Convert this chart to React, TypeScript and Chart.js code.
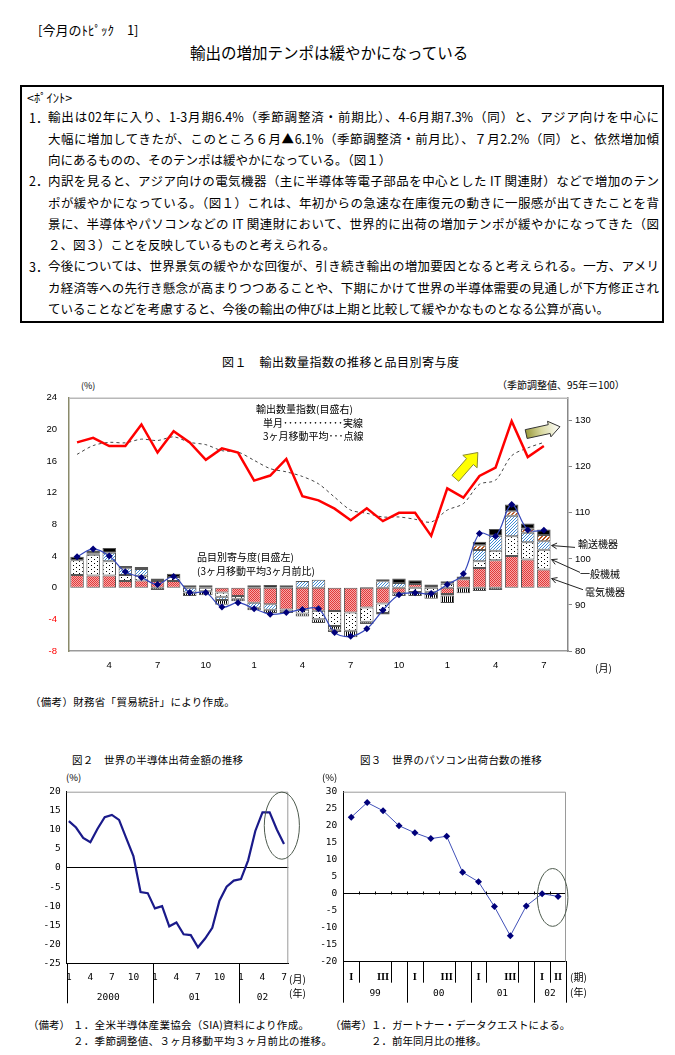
import React, { useEffect, useRef } from 'react';
import { Chart, registerables } from 'chart.js';

Chart.register(...registerables);

const JP = "'Noto Sans CJK JP', sans-serif";
const SANS = "'Liberation Sans', Arial, sans-serif";
const MONO = "'DejaVu Sans Mono', monospace";
const SERIF = "'Liberation Serif', serif";

// ---------- Figure 1 data (Feb 2000 .. Jul 2002, last slot Aug 2002 empty) ----------
const fig1Months = ['2', '3', '4', '5', '6', '7', '8', '9', '10', '11', '12', '1', '2', '3', '4', '5', '6', '7', '8', '9', '10', '11', '12', '1', '2', '3', '4', '5', '6', '7', '8'];
const fig1ShownMonths = ['1', '4', '7', '10'];
const electric = [1.6, 1.55, 1.55, 0.85, 0.9, 0.85, 0.85, 0, 0.2, -0.6, -1.05, -1.9, -2.1, -2.75, -2.8, -2.9, -2.95, -3.15, -2.5, -2.0, -0.7, 0.45, 0.2, -0.8, 1.05, 2.5, 3.45, 4.0, 3.55, 2.3];
const generalMachinery = [1.85, 2.6, 1.8, 0.75, 0.6, 0, 0.5, 0, -0.45, -0.55, -0.35, 0, 0, -0.3, -0.45, -1.1, -1.9, -2.3, -1.8, -1.2, 0, -0.55, -0.5, 0.5, 0, 0.85, 1.2, 2.5, 2.2, 2.5];
const transport = [0, 0.2, 1.05, 0.85, 0.85, 0, 0, -0.6, 0, -0.4, 0, -0.65, -0.7, 0, 0.85, 1.0, 0, 0, 0, 0.8, 0.6, 0, -0.3, -0.2, 0, 1.4, 1.9, 2.6, 1.2, 1.05];
const chemicals = [0, 0, 0, 0, 0, -0.3, 0, -0.45, -0.5, -0.6, -0.3, -0.3, -0.4, -0.15, -0.4, -0.45, -0.45, -0.8, -0.3, -0.2, -0.35, -0.5, -0.6, -0.95, -0.7, -0.42, -0.3, 0, 0, 0];
const metals = [0, 0, 0, 0, 0, 0, 0, 0, 0, 0, 0, 0, 0, 0, 0, 0, -0.3, 0, 0, 0, 0, 0, 0, 0, 0, 0.6, 0, 0.55, 0.5, 0.8];
const others = [0.45, 0.35, 0.6, 0.3, 0.25, 0.3, 0.4, 0.3, 0.1, 0, 0, 0.3, 0.35, 0.3, 0, 0, 0, 0, 0.1, 0.25, 0.55, 0.5, 0.2, 0.3, 0.35, 0.45, 0.85, 0.85, 0.65, 0.7];
const contributionMA = [3.9, 4.9, 4.0, 2.0, 1.3, 0.4, 1.4, -0.6, -0.6, -2.45, -1.9, -2.65, -3.35, -3.15, -2.75, -2.65, -5.65, -6.15, -5.2, -2.85, -0.9, -0.65, -0.75, 0.4, 1.75, 6.85, 6.5, 10.5, 7.3, 7.25];
const exportIndex = [125.3, 126.3, 124.5, 124.5, 129.2, 123.1, 127.7, 125.3, 121.5, 124.0, 123.1, 117.0, 118.1, 121.7, 113.6, 112.7, 110.9, 108.4, 111.0, 108.2, 110.0, 110.0, 105.0, 115.3, 113.3, 118.0, 119.8, 129.9, 122.1, 124.5];
const exportIndexMA = [122.7, 124.6, 125.3, 125.2, 126.0, 125.7, 126.5, 125.3, 124.8, 123.5, 123.2, 121.4, 119.6, 118.9, 117.9, 116.3, 113.4, 110.6, 109.9, 109.1, 109.1, 108.6, 108.0, 110.6, 112.0, 116.2, 117.1, 122.4, 124.1, 125.3];
// arrows (category index, right-axis value)
const risingArrow = [23.5, 117.5, 24.9, 123.1];
const flatArrow = [27.9, 127.1, 30.0, 128.7];

// ---------- Figure 2 data (Jan 2000 .. Jul 2002) ----------
const fig2Months = [1, 2, 3, 4, 5, 6, 7, 8, 9, 10, 11, 12, 1, 2, 3, 4, 5, 6, 7, 8, 9, 10, 11, 12, 1, 2, 3, 4, 5, 6, 7];
const fig2TickIndex = [0, 3, 6, 9, 12, 15, 18, 21, 24, 27, 30];
const fig2Values = [12.3, 10.6, 7.9, 6.75, 10.3, 13.3, 13.9, 12.6, 7.8, 3.1, -6.3, -6.6, -10.6, -10.0, -15.3, -14.3, -17.4, -17.6, -20.8, -18.5, -15.7, -8.6, -4.9, -3.3, -2.9, 2.0, 9.7, 14.6, 14.6, 10.1, 6.3];
const fig2YearLabels = ['2000', '01', '02'];
const fig2YearStart = [0, 12, 24];
const fig2YearEnd = [11, 23, 30];
const fig2Circle = [29.7, 11.1, 2.45, 8.8];

// ---------- Figure 3 data (99 I .. 02 II) ----------
const fig3Quarters = ['I', 'II', 'III', 'IV', 'I', 'II', 'III', 'IV', 'I', 'II', 'III', 'IV', 'I', 'II'];
const fig3Values = [22.5, 26.8, 24.4, 20.0, 17.9, 16.2, 16.9, 6.3, 3.5, -3.8, -12.4, -3.6, 0.0, -0.8];
const fig3YearLabels = ['99', '00', '01', '02'];
const fig3YearStart = [0, 4, 8, 12];
const fig3YearEnd = [3, 7, 11, 13];
const fig3Circle = [12.66, -1.1, 0.96, 8.5];

function makePattern(w: number, h: number, draw: (g: CanvasRenderingContext2D) => void): CanvasPattern {
  const c = document.createElement('canvas');
  c.width = w;
  c.height = h;
  const g = c.getContext('2d')!;
  draw(g);
  return g.createPattern(c, 'repeat')!;
}

function blockArrow(ctx: CanvasRenderingContext2D, x1: number, y1: number, x2: number, y2: number, shaftW: number, headW: number, headL: number, fill: any, stroke: string) {
  const dx = x2 - x1, dy = y2 - y1;
  const len = Math.hypot(dx, dy);
  const ux = dx / len, uy = dy / len;
  const nx = -uy, ny = ux;
  const bx = x2 - ux * headL, by = y2 - uy * headL;
  const pts = [
    [x1 + nx * shaftW / 2, y1 + ny * shaftW / 2],
    [bx + nx * shaftW / 2, by + ny * shaftW / 2],
    [bx + nx * headW / 2, by + ny * headW / 2],
    [x2, y2],
    [bx - nx * headW / 2, by - ny * headW / 2],
    [bx - nx * shaftW / 2, by - ny * shaftW / 2],
    [x1 - nx * shaftW / 2, y1 - ny * shaftW / 2],
  ];
  ctx.beginPath();
  pts.forEach((p, i) => (i ? ctx.lineTo(p[0], p[1]) : ctx.moveTo(p[0], p[1])));
  ctx.closePath();
  ctx.fillStyle = fill;
  ctx.fill();
  ctx.strokeStyle = stroke;
  ctx.lineWidth = 1;
  ctx.stroke();
}

const fig1Decor = {
  id: 'fig1Decor',
  afterDatasetsDraw(chart: any) {
    const { ctx, chartArea: a, scales } = chart;
    const xs = scales.x, ys = scales.y, y2 = scales.y2;
    ctx.save();
    ctx.strokeStyle = '#b8b8b8';
    ctx.lineWidth = 1.5;
    ctx.beginPath();
    ctx.moveTo(a.left, a.top + 0.5);
    ctx.lineTo(a.right, a.top + 0.5);
    ctx.stroke();

    // yellow rising arrow
    blockArrow(ctx, xs.getPixelForValue(risingArrow[0]), y2.getPixelForValue(risingArrow[1]), xs.getPixelForValue(risingArrow[2]), y2.getPixelForValue(risingArrow[3]), 9, 19, 12, '#ffff00', '#8a8a30');
    // flattening arrow with gradient
    const fx1 = xs.getPixelForValue(flatArrow[0]), fy1 = y2.getPixelForValue(flatArrow[1]);
    const fx2 = xs.getPixelForValue(flatArrow[2]), fy2 = y2.getPixelForValue(flatArrow[3]);
    const grad = ctx.createLinearGradient(fx1, fy1, fx2, fy2);
    grad.addColorStop(0, '#9a9a3a');
    grad.addColorStop(0.45, '#d8d8a0');
    grad.addColorStop(1, '#ffffff');
    blockArrow(ctx, fx1, fy1, fx2, fy2, 9, 16, 11, grad, '#333333');

    // leader lines to item labels
    const last = electric.length - 1;
    const meta = chart.getDatasetMeta(3);
    const el = meta.data[last];
    const bx = el.x + el.width / 2 + 1;
    const mids = [
      electric[last] + generalMachinery[last] + transport[last] / 2,
      electric[last] + generalMachinery[last] / 2,
      electric[last] / 2,
    ];
    const ends = [[7, 149.7], [12, 174.7], [15, 192]];
    ctx.strokeStyle = '#222';
    ctx.lineWidth = 1;
    mids.forEach((v, i) => {
      const sy = ys.getPixelForValue(v);
      const ex = a.right + ends[i][0], ey = a.top + ends[i][1];
      ctx.beginPath();
      ctx.moveTo(bx, sy);
      ctx.lineTo(ex, ey);
      ctx.stroke();
      const ang = Math.atan2(ey - sy, ex - bx);
      ctx.beginPath();
      ctx.moveTo(bx + 6 * Math.cos(ang - 0.5), sy + 6 * Math.sin(ang - 0.5));
      ctx.lineTo(bx, sy);
      ctx.lineTo(bx + 6 * Math.cos(ang + 0.5), sy + 6 * Math.sin(ang + 0.5));
      ctx.stroke();
    });
    ctx.restore();
  },
};

function Fig1() {
  const ref = useRef<HTMLCanvasElement>(null);
  useEffect(() => {
    const pink = makePattern(2, 2, (g) => {
      g.fillStyle = '#f6a8a8';
      g.fillRect(0, 0, 2, 2);
      g.fillStyle = '#e23a3a';
      g.fillRect(0, 0, 1, 1);
      g.fillRect(1, 1, 1, 1);
    });
    const dotted = makePattern(6, 4, (g) => {
      g.fillStyle = '#ffffff';
      g.fillRect(0, 0, 6, 4);
      g.fillStyle = '#000000';
      g.fillRect(1, 1, 1, 1);
      g.fillRect(4, 3, 1, 1);
    });
    const blue = makePattern(3, 3, (g) => {
      g.fillStyle = '#ffffff';
      g.fillRect(0, 0, 3, 3);
      g.fillStyle = '#3f8ad4';
      g.fillRect(0, 2, 1, 1);
      g.fillRect(1, 1, 1, 1);
      g.fillRect(2, 0, 1, 1);
    });
    const stripes = makePattern(2, 1, (g) => {
      g.fillStyle = '#ffffff';
      g.fillRect(0, 0, 2, 1);
      g.fillStyle = '#000000';
      g.fillRect(0, 0, 1, 1);
    });
    const brown = makePattern(4, 4, (g) => {
      g.fillStyle = '#ffffff';
      g.fillRect(0, 0, 4, 4);
      g.fillStyle = '#b4501e';
      for (let i = 0; i < 4; i++) {
        g.fillRect(i, 3 - i, 1, 1);
        g.fillRect(i, (4 - i) % 4, 1, 1);
      }
    });
    const bar = (label: string, data: number[], bg: any) => ({
      type: 'bar',
      label,
      data: data.map((v) => (v === 0 ? null : v)),
      backgroundColor: bg,
      borderColor: '#555555',
      borderWidth: 1,
      borderSkipped: false,
      yAxisID: 'y',
      stack: 'items',
      order: 1,
      barPercentage: 0.84,
      categoryPercentage: 1,
    });
    const tickFont = { family: SANS, size: 9.5 };
    const chart = new Chart(ref.current!, {
      type: 'bar',
      data: {
        labels: fig1Months,
        datasets: [
          { type: 'line', label: '品目別寄与度', data: contributionMA, yAxisID: 'y', stack: 'ma', order: 0, borderColor: '#3547bb', borderWidth: 1.2, tension: 0.35, pointStyle: 'rectRot', pointRadius: 3.5, pointBackgroundColor: '#00007a', pointBorderColor: '#00007a', pointBorderWidth: 0 },
          { type: 'line', label: '単月', data: exportIndex, yAxisID: 'y2', order: 0, borderColor: '#ff0000', borderWidth: 2.5, pointRadius: 0, tension: 0 },
          { type: 'line', label: '3ヶ月移動平均', data: exportIndexMA, yAxisID: 'y2', order: 0, borderColor: '#444444', borderWidth: 1, borderDash: [3, 3], pointRadius: 0, tension: 0.3 },
          bar('電気機器', electric, pink),
          bar('一般機械', generalMachinery, dotted),
          bar('輸送機器', transport, blue),
          bar('化学製品', chemicals, stripes),
          bar('金属', metals, brown),
          bar('その他', others, '#000000'),
        ] as any,
      },
      options: {
        animation: false,
        responsive: false,
        devicePixelRatio: 1,
        layout: { padding: { top: 17, left: 0, right: 0, bottom: 0 } },
        plugins: { legend: { display: false }, tooltip: { enabled: false } },
        scales: {
          x: {
            type: 'category',
            stacked: true,
            offset: true,
            grid: { display: false, drawTicks: false },
            border: { color: '#9a9a9a', width: 1.5 },
            ticks: {
              autoSkip: false,
              maxRotation: 0,
              minRotation: 0,
              padding: 9,
              color: '#000',
              font: tickFont,
              callback: (_v: any, i: number) => (fig1ShownMonths.includes(fig1Months[i]) ? fig1Months[i] : ''),
            },
            afterFit: (s: any) => { s.height = 29; },
          },
          y: {
            position: 'left',
            stacked: true,
            min: -8,
            max: 24,
            ticks: { stepSize: 4, padding: 12, font: tickFont, color: (c: any) => (c.tick.value < 0 ? '#ff0000' : '#000') },
            grid: { display: false, drawTicks: false },
            border: { color: '#8a8a6a', width: 1.5 },
            afterFit: (s: any) => { s.width = 39; },
          },
          y2: {
            position: 'right',
            min: 80,
            max: 135,
            ticks: { stepSize: 10, includeBounds: false, padding: 3, font: tickFont, color: '#000' },
            grid: { drawOnChartArea: false, drawTicks: true, tickLength: 4, color: '#888' },
            border: { color: '#888', width: 1.5 },
            afterFit: (s: any) => { s.width = 62; },
          },
        },
      } as any,
      plugins: [fig1Decor],
    });
    return () => chart.destroy();
  }, []);
  return <canvas ref={ref} width={600} height={300} style={{ position: 'absolute', left: 30, top: 380, width: 600, height: 300, display: 'block' }} />;
}

function drawFrameTopRight(ctx: CanvasRenderingContext2D, a: any) {
  ctx.strokeStyle = '#9a9a9a';
  ctx.lineWidth = 1;
  ctx.beginPath();
  ctx.moveTo(a.left, a.top + 0.5);
  ctx.lineTo(a.right - 0.5, a.top + 0.5);
  ctx.lineTo(a.right - 0.5, a.bottom);
  ctx.stroke();
}

function drawCircle(ctx: CanvasRenderingContext2D, xs: any, ys: any, c: number[]) {
  const cx = xs.getPixelForValue(c[0]);
  const cy = ys.getPixelForValue(c[1]);
  const rx = xs.getPixelForValue(c[0] + c[2]) - cx;
  const ry = cy - ys.getPixelForValue(c[1] + c[3]);
  ctx.strokeStyle = '#4d5a4d';
  ctx.lineWidth = 1;
  ctx.beginPath();
  ctx.ellipse(cx, cy, rx, ry, 0, 0, Math.PI * 2);
  ctx.stroke();
}

const fig2Decor = {
  id: 'fig2Decor',
  afterDraw(chart: any) {
    const { ctx, chartArea: a, scales } = chart;
    const xs = scales.x, ys = scales.y;
    ctx.save();
    drawFrameTopRight(ctx, a);
    ctx.strokeStyle = '#000';
    ctx.lineWidth = 1;
    fig2YearStart.forEach((s) => {
      const x = Math.round(xs.getPixelForValue(s - 0.3)) + 0.5;
      ctx.beginPath();
      ctx.moveTo(x, a.bottom);
      ctx.lineTo(x, a.bottom + 40);
      ctx.stroke();
    });
    ctx.fillStyle = '#000';
    ctx.font = `9.5px ${MONO}`;
    ctx.textAlign = 'center';
    ctx.textBaseline = 'middle';
    fig2YearLabels.forEach((lab, i) => {
      ctx.fillText(lab, xs.getPixelForValue((fig2YearStart[i] + fig2YearEnd[i]) / 2), a.bottom + 34);
    });
    drawCircle(ctx, xs, ys, fig2Circle);
    ctx.restore();
  },
};

function Fig2() {
  const ref = useRef<HTMLCanvasElement>(null);
  useEffect(() => {
    const tickFont = { family: MONO, size: 9.5 };
    const chart = new Chart(ref.current!, {
      type: 'line',
      data: {
        datasets: [
          { data: fig2Values.map((v, i) => ({ x: i, y: v })), borderColor: '#1a1a8a', borderWidth: 2.2, pointRadius: 0, tension: 0 },
        ],
      },
      options: {
        animation: false,
        responsive: false,
        devicePixelRatio: 1,
        layout: { padding: { top: 7.7, right: 21.7, left: 0, bottom: 0 } },
        plugins: { legend: { display: false }, tooltip: { enabled: false } },
        scales: {
          x: {
            type: 'linear',
            min: -0.3,
            max: 30.6,
            afterBuildTicks: (s: any) => { s.ticks = fig2TickIndex.map((v) => ({ value: v })); },
            ticks: { autoSkip: false, maxRotation: 0, minRotation: 0, padding: 9, font: tickFont, color: '#000', callback: (v: any) => String(fig2Months[v]) },
            grid: { display: false, drawTicks: false },
            border: { color: '#000' },
            afterFit: (s: any) => { s.height = 46.7; },
          },
          y: {
            min: -25,
            max: 20,
            ticks: { stepSize: 5, padding: 6, font: tickFont, color: '#000' },
            grid: { drawTicks: false, color: (c: any) => (c.tick.value === 0 ? '#000' : 'rgba(0,0,0,0)') },
            border: { color: '#000' },
            afterFit: (s: any) => { s.width = 46.7; },
          },
        },
      } as any,
      plugins: [fig2Decor],
    });
    return () => chart.destroy();
  }, []);
  return <canvas ref={ref} width={290} height={230} style={{ position: 'absolute', left: 20, top: 780, width: 290, height: 230, display: 'block' }} />;
}

const fig3Decor = {
  id: 'fig3Decor',
  afterDraw(chart: any) {
    const { ctx, chartArea: a, scales } = chart;
    const xs = scales.x, ys = scales.y;
    ctx.save();
    drawFrameTopRight(ctx, a);
    ctx.strokeStyle = '#000';
    ctx.lineWidth = 1;
    const zy = Math.round(ys.getPixelForValue(0)) + 0.5;
    for (let k = 0; k < fig3Quarters.length - 1; k++) {
      const x = Math.round(xs.getPixelForValue(k + 0.5)) + 0.5;
      ctx.beginPath();
      ctx.moveTo(x, zy - 3);
      ctx.lineTo(x, zy);
      ctx.stroke();
    }
    const longs = [...fig3YearStart.map((s) => s - 0.5), fig3Quarters.length - 0.5];
    longs.forEach((v) => {
      const x = Math.round(xs.getPixelForValue(v)) + 0.5;
      ctx.beginPath();
      ctx.moveTo(x, a.bottom);
      ctx.lineTo(x, a.bottom + 41);
      ctx.stroke();
    });
    for (let k = 0; k < fig3Quarters.length - 1; k += 2) {
      const x = Math.round(xs.getPixelForValue(k + 0.5)) + 0.5;
      ctx.beginPath();
      ctx.moveTo(x, a.bottom);
      ctx.lineTo(x, a.bottom + 21);
      ctx.stroke();
    }
    ctx.fillStyle = '#000';
    ctx.font = `9.5px ${MONO}`;
    ctx.textAlign = 'center';
    ctx.textBaseline = 'middle';
    fig3YearLabels.forEach((lab, i) => {
      ctx.fillText(lab, xs.getPixelForValue((fig3YearStart[i] + fig3YearEnd[i]) / 2), a.bottom + 32);
    });
    drawCircle(ctx, xs, ys, fig3Circle);
    ctx.restore();
  },
};

function Fig3() {
  const ref = useRef<HTMLCanvasElement>(null);
  useEffect(() => {
    const tickFont = { family: MONO, size: 9.5 };
    const last = fig3Quarters.length - 1;
    const chart = new Chart(ref.current!, {
      type: 'line',
      data: {
        labels: fig3Quarters,
        datasets: [
          { data: fig3Values, borderColor: '#4050b8', borderWidth: 1, pointStyle: 'rectRot', pointRadius: 3.5, pointBackgroundColor: '#00007a', pointBorderColor: '#00007a', pointBorderWidth: 0, tension: 0 },
        ],
      },
      options: {
        animation: false,
        responsive: false,
        devicePixelRatio: 1,
        layout: { padding: { top: 8.3, right: 34, left: 0, bottom: 0 } },
        plugins: { legend: { display: false }, tooltip: { enabled: false } },
        scales: {
          x: {
            type: 'category',
            offset: true,
            ticks: {
              autoSkip: false,
              maxRotation: 0,
              minRotation: 0,
              padding: 9,
              color: '#000',
              font: { family: SERIF, size: 10.5, weight: 'bold' },
              callback: (_v: any, i: number) => (i % 2 === 0 || i === last ? fig3Quarters[i] : ''),
            },
            grid: { display: false, drawTicks: false },
            border: { color: '#000' },
            afterFit: (s: any) => { s.height = 48.3; },
          },
          y: {
            min: -20,
            max: 30,
            ticks: { stepSize: 5, padding: 6, font: tickFont, color: '#000' },
            grid: { drawTicks: false, color: (c: any) => (c.tick.value === 0 ? '#000' : 'rgba(0,0,0,0)') },
            border: { color: '#000' },
            afterFit: (s: any) => { s.width = 43.3; },
          },
        },
      } as any,
      plugins: [fig3Decor],
    });
    return () => chart.destroy();
  }, []);
  return <canvas ref={ref} width={300} height={230} style={{ position: 'absolute', left: 300, top: 780, width: 300, height: 230, display: 'block' }} />;
}

function Txt(props: { x: number; y: number; size: number; ls?: number; font?: string; color?: string; children: any }) {
  const lh = Math.round(props.size * 1.5);
  return (
    <div
      style={{
        position: 'absolute',
        left: props.x,
        top: props.y - lh / 2,
        fontSize: props.size,
        lineHeight: lh + 'px',
        whiteSpace: 'nowrap',
        letterSpacing: props.ls ?? 0,
        fontFamily: props.font ?? JP,
        color: props.color ?? '#000',
      }}
    >
      {props.children}
    </div>
  );
}

const boxLines = [
  { y: 117, n: '1．', t: '輸出は02年に入り、1-3月期6.4%（季節調整済・前期比）、4-6月期7.3%（同）と、アジア向けを中心に', j: true },
  { y: 138.3, n: '', t: '大幅に増加してきたが、このところ６月▲6.1%（季節調整済・前月比）、７月2.2%（同）と、依然増加傾', j: true },
  { y: 159.6, n: '', t: '向にあるものの、そのテンポは緩やかになっている。（図１）', j: false },
  { y: 180.9, n: '2．', t: '内訳を見ると、アジア向けの電気機器（主に半導体等電子部品を中心とした IT 関連財）などで増加のテン', j: true },
  { y: 202.2, n: '', t: 'ポが緩やかになっている。（図１）これは、年初からの急速な在庫復元の動きに一服感が出てきたことを背', j: true },
  { y: 223.5, n: '', t: '景に、半導体やパソコンなどの IT 関連財において、世界的に出荷の増加テンポが緩やかになってきた（図', j: true },
  { y: 244.8, n: '', t: '２、図３）ことを反映しているものと考えられる。', j: false },
  { y: 266.1, n: '3．', t: '今後については、世界景気の緩やかな回復が、引き続き輸出の増加要因となると考えられる。一方、アメリ', j: true },
  { y: 287.4, n: '', t: 'カ経済等への先行き懸念が高まりつつあることや、下期にかけて世界の半導体需要の見通しが下方修正され', j: true },
  { y: 308.7, n: '', t: 'ていることなどを考慮すると、今後の輸出の伸びは上期と比較して緩やかなものとなる公算が高い。', j: false },
];

export default function App() {
  return (
    <div style={{ position: 'absolute', left: 0, top: 0, width: 675, height: 1055, background: '#fff', fontFamily: JP, color: '#000', overflow: 'hidden' }}>
      <Txt x={38} y={30} size={13}>[今月のﾄﾋﾟｯｸ　1]</Txt>
      <Txt x={190} y={52} size={15.5}>輸出の増加テンポは緩やかになっている</Txt>

      <div style={{ position: 'absolute', left: 20, top: 85, width: 644, height: 238, border: '2px solid #000', boxSizing: 'border-box' }} />
      <Txt x={27} y={97} size={12.5}>{'<ﾎﾟｲﾝﾄ>'}</Txt>
      {boxLines.map((l, i) => (
        <React.Fragment key={i}>
          {l.n ? <Txt x={29} y={l.y} size={12.5}>{l.n}</Txt> : null}
          <div
            style={{
              position: 'absolute',
              left: 48,
              top: l.y - 10.65,
              width: 611,
              height: 21.3,
              lineHeight: '21.3px',
              fontSize: 12.5,
              textAlign: l.j ? 'justify' : 'left',
              textAlignLast: l.j ? 'justify' : 'left',
              overflow: 'visible',
            } as any}
          >
            {l.t}
          </div>
        </React.Fragment>
      ))}

      <Txt x={222} y={362} size={12} ls={0.5}>図１　輸出数量指数の推移と品目別寄与度</Txt>
      <Txt x={81} y={386} size={9}>(%)</Txt>
      <Txt x={497} y={384} size={10}>（季節調整値、95年＝100）</Txt>
      <Fig1 />
      <Txt x={256} y={408} size={10}>輸出数量指数(目盛右)</Txt>
      <Txt x={263} y={422} size={10}>単月････････････実線</Txt>
      <Txt x={263} y={435} size={10}>3ヶ月移動平均･･･点線</Txt>
      <Txt x={197} y={556} size={10}>品目別寄与度(目盛左)</Txt>
      <Txt x={197} y={570} size={10}>(3ヶ月移動平均3ヶ月前比)</Txt>
      <Txt x={578} y={543} size={10}>輸送機器</Txt>
      <Txt x={580} y={573} size={10}>一般機械</Txt>
      <Txt x={585} y={591} size={10}>電気機器</Txt>
      <Txt x={595} y={667} size={10}>(月)</Txt>
      <Txt x={30} y={702} size={10.5} ls={0.3}>（備考）財務省「貿易統計」により作成。</Txt>

      <Txt x={72} y={760} size={10.5} ls={0.2}>図２　世界の半導体出荷金額の推移</Txt>
      <Txt x={66} y={777} size={9.5}>(%)</Txt>
      <Fig2 />
      <Txt x={289} y={978} size={10}>(月)</Txt>
      <Txt x={289} y={992} size={10}>(年)</Txt>

      <Txt x={360} y={760} size={10.5} ls={0.2}>図３　世界のパソコン出荷台数の推移</Txt>
      <Txt x={322} y={777} size={9.5}>(%)</Txt>
      <Fig3 />
      <Txt x={570} y={976} size={10}>(期)</Txt>
      <Txt x={570} y={991} size={10}>(年)</Txt>

      <Txt x={28} y={1025} size={10.5}>（備考）</Txt>
      <Txt x={73} y={1025} size={10.5} ls={0.3}>１．全米半導体産業協会（SIA)資料により作成。</Txt>
      <Txt x={73} y={1041} size={10.5} ls={0.3}>２．季節調整値、３ヶ月移動平均３ヶ月前比の推移。</Txt>
      <Txt x={330} y={1025} size={10.5}>（備考）</Txt>
      <Txt x={371} y={1025} size={10.5}>１．ガートナー・データクエストによる。</Txt>
      <Txt x={371} y={1041} size={10.5}>２．前年同月比の推移。</Txt>
    </div>
  );
}
